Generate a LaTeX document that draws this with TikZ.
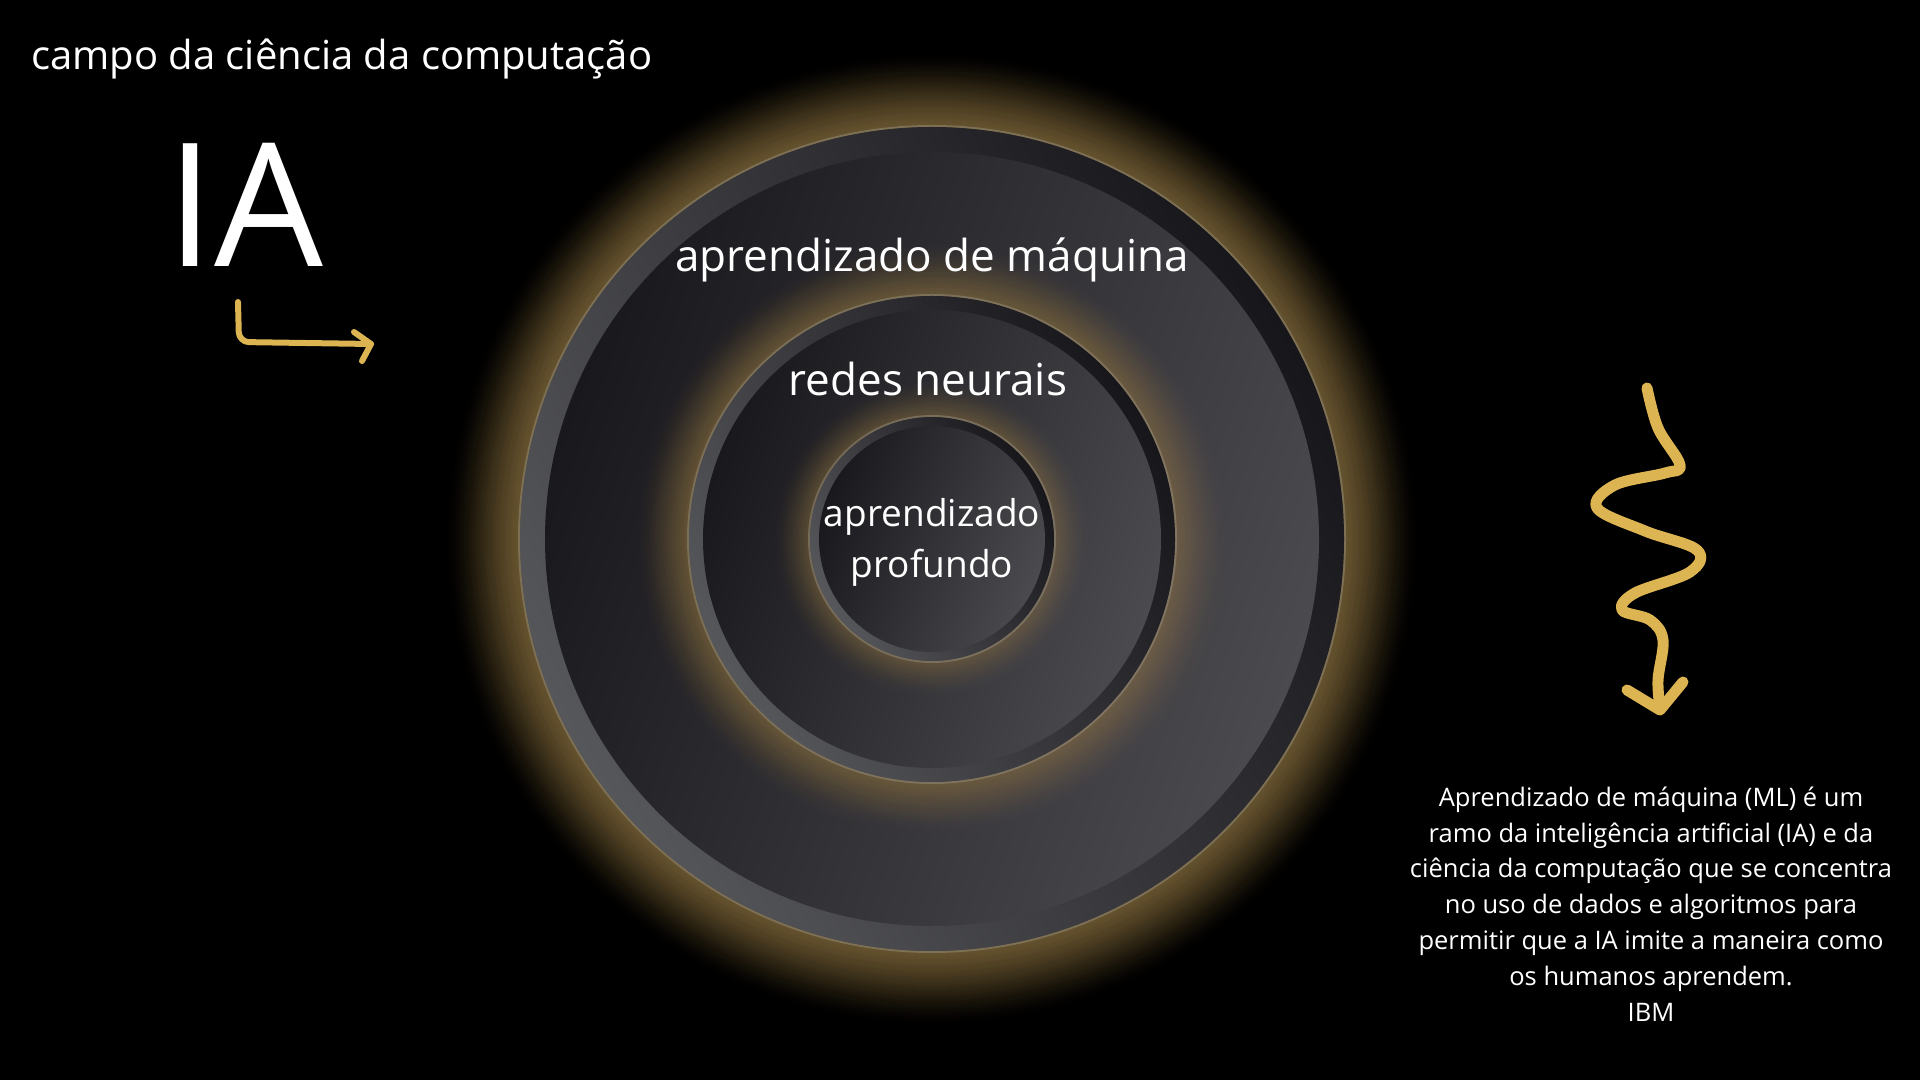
\documentclass[tikz,border=0pt]{standalone}
\usepackage{fontspec}
\setmainfont{Open Sans}
\definecolor{glowgold}{HTML}{8A7347}
\definecolor{rimlight}{HTML}{56575B}
\definecolor{rimdark}{HTML}{17161B}
\definecolor{facedark}{HTML}{19181D}
\definecolor{facelight}{HTML}{4B4B4F}
\definecolor{halo}{HTML}{A29C8E}
\definecolor{arrowgold}{HTML}{DDB452}

\begin{document}
\begin{tikzpicture}[x=1pt,y=1pt,
		every node/.style={text=white, inner sep=0pt},
		rim/.style={top color=rimlight, bottom color=rimdark, shading angle=120},
		face/.style={top color=facelight, bottom color=facedark, shading angle=250},
		goldstroke/.style={draw=arrowgold, line cap=round, line join=round}]
		
		\fill[black] (0,0) rectangle (1920,1080);
		\coordinate (c) at (932,541);
		
		% glow, rim and face, from the outer circle inwards
		\foreach \r/\t/\n in {412/25/36, 243/14/26, 122/9/18}{
			\foreach \k [evaluate=\k as \op using {0.012+0.07*(1-\k/\n)}] in {1,...,\n}
				\fill[glowgold, opacity=\op] (c) circle (\r+2*\k);
			\draw[halo, opacity=0.4, line width=2] (c) circle (\r+1);
			\shade[rim] (c) circle (\r);
			\shade[face] (c) circle (\r-\t);
		}
		
		\node[font=\fontsize{40}{48}\selectfont, anchor=base west] (campo) at (31,1010) {campo da ciência da computação};
		\node[font=\fontsize{172}{180}\selectfont, anchor=base] (ia) at (245,813) {IA};
		\node[font=\fontsize{44}{52}\selectfont, anchor=base] (maquina) at (932,808) {aprendizado de máquina};
		\node[font=\fontsize{44}{52}\selectfont, anchor=base] (redes) at (928,684) {redes neurais};
		% base anchor of a multi-line node sits on its last line
		\node[font=\fontsize{37}{51}\selectfont, align=center, anchor=base] (profundo) at (932,502) {aprendizado\\profundo};
		\node[font=\fontsize{25.5}{35.8}\selectfont, align=center, anchor=base] (ibm) at (1651,59)
		{Aprendizado de máquina (ML) é um\\ramo da inteligência artificial (IA) e da\\ciência da computação que se concentra\\no uso de dados e algoritmos para\\permitir que a IA imite a maneira como\\os humanos aprendem.\\IBM};
		
		\draw[goldstroke, line width=6, rounded corners=10] (238,778) -- (239,738) -- (371,736);
		\draw[goldstroke, line width=6] (354,748) -- (371,736) -- (362,719);
		
		\draw[goldstroke, line width=11] plot[smooth, tension=0.6] coordinates {(1647,692) (1658,652) (1680,615) (1665,607) (1615,595) (1597,572) (1645,549) (1697,530) (1690,508) (1635,487) (1622,470) (1650,460) (1663,440) (1658,400) (1660,372)};
		\draw[goldstroke, line width=11] (1627,390) -- (1660,370) -- (1683,398);
		
	\end{tikzpicture}
\end{document}
